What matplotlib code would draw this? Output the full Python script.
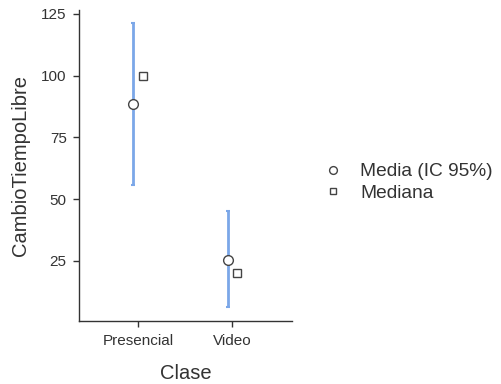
import numpy as np
import matplotlib.pyplot as plt

# Datos: media con IC 95% y mediana por clase
clases = ["Presencial", "Video"]
media = [88.7, 25.5]
ic_inf = [55.8, 6.4]
ic_sup = [121.2, 45.0]
mediana = [100.0, 20.0]

plt.rcParams['font.family'] = ['Liberation Sans', 'DejaVu Sans']

fig = plt.figure(figsize=(5.01, 3.84), dpi=100)
ax = fig.add_axes([0.158, 0.164, 0.425, 0.810])

x = np.arange(len(clases))
media = np.array(media)
err = [media - np.array(ic_inf), np.array(ic_sup) - media]

ax.errorbar(x - 0.05, media, yerr=err, fmt="none", ecolor="#7ba7e8",
            elinewidth=2, capsize=1.5, capthick=1.5, zorder=2)
ax.plot(x - 0.05, media, "o", ms=7, mfc="white", mec="#444444", mew=1.0,
        linestyle="none", zorder=3, label="Media (IC 95%)")
ax.plot(x + 0.05, mediana, "s", ms=6, mfc="white", mec="#444444", mew=1.0,
        linestyle="none", zorder=3, label="Mediana")

ax.set_xlim(-0.62, 1.63)
ax.set_ylim(0.6, 126.6)
ax.set_xticks(x)
ax.set_xticklabels(clases)
ax.set_yticks([25, 50, 75, 100, 125])

for s in ["top", "right"]:
    ax.spines[s].set_visible(False)
for s in ["left", "bottom"]:
    ax.spines[s].set_color("#333333")
    ax.spines[s].set_linewidth(1)
ax.tick_params(colors="#333333", labelsize=11, length=4, width=1, pad=5)

ax.set_xlabel("Clase", fontsize=14.5, color="#333333", labelpad=12)
ax.set_ylabel("CambioTiempoLibre", fontsize=14.5, color="#333333", labelpad=8)

fig.legend(loc="center left", bbox_to_anchor=(0.612, 0.525), frameon=False,
           fontsize=13.8, handletextpad=0.9, labelspacing=0.2, handlelength=1.0,
           markerscale=0.8, labelcolor="#333333")

plt.savefig("out.png", dpi=100)
